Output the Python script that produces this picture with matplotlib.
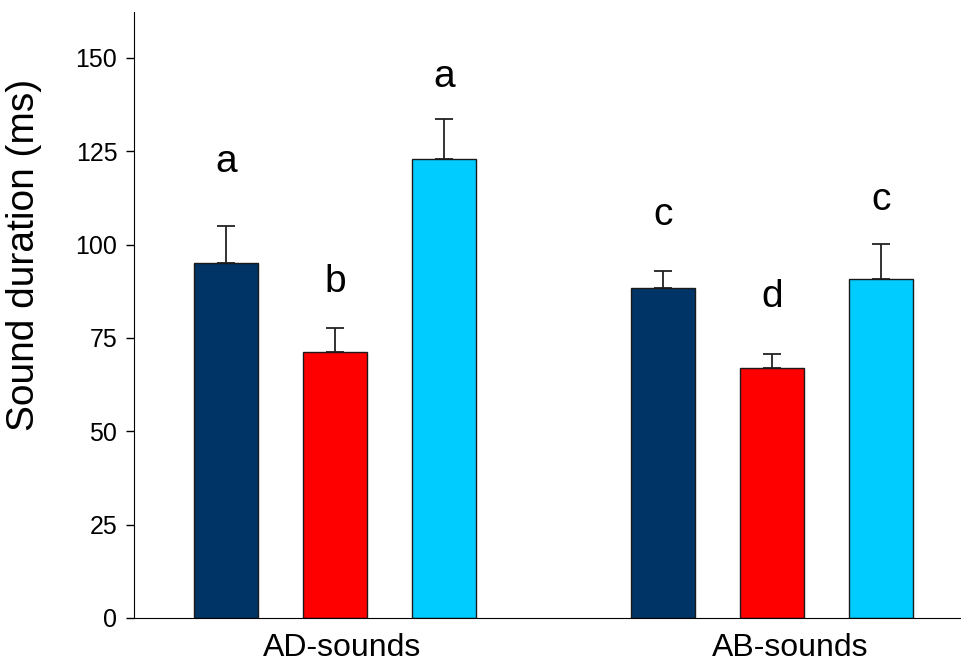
import matplotlib
matplotlib.use("Agg")
import matplotlib.pyplot as plt

plt.rcParams['font.family'] = ['Liberation Sans', 'DejaVu Sans']

groups = ['AD-sounds', 'AB-sounds']
means = [95, 71.3, 122.8, 88.4, 67.0, 90.9]
errs = [10.0, 6.3, 10.8, 4.5, 3.8, 9.2]
letters = ['a', 'b', 'a', 'c', 'd', 'c']
letter_y = [122, 90, 145, 108, 86, 112]
colors = ['#003366', '#ff0000', '#00ccff'] * 2

xpos = [0, 1, 2, 4, 5, 6]

fig = plt.figure(figsize=(9.61, 6.65), dpi=100)
ax = fig.add_axes([0.1394, 0.0707, 0.8606, 0.9113])

ax.bar(xpos, means, width=0.587, color=colors, edgecolor='#1a1a1a', linewidth=1.0, zorder=2)
ax.errorbar(xpos, means, yerr=[[0]*6, errs], fmt='none', ecolor='#222222',
            elinewidth=1.3, capsize=6.5, capthick=1.3, zorder=1)

for x, y, t in zip(xpos, letter_y, letters):
    ax.text(x, y, t, ha='center', va='center', fontsize=28)

ax.set_xlim(-0.844, 6.734)
ax.set_ylim(0, 162.3)
ax.set_yticks([0, 25, 50, 75, 100, 125, 150])
ax.tick_params(axis='y', labelsize=18, length=6, width=1, direction='out', pad=6)
ax.set_xticks([1.064, 5.165])
ax.set_xticklabels(groups, fontsize=23)
ax.tick_params(axis='x', length=0, pad=11)
ax.set_ylabel('Sound duration (ms)', fontsize=28)
ax.yaxis.set_label_coords(-0.111, 0.599)

ax.spines['top'].set_visible(False)
ax.spines['right'].set_visible(False)

fig.savefig('out.png', dpi=100)
